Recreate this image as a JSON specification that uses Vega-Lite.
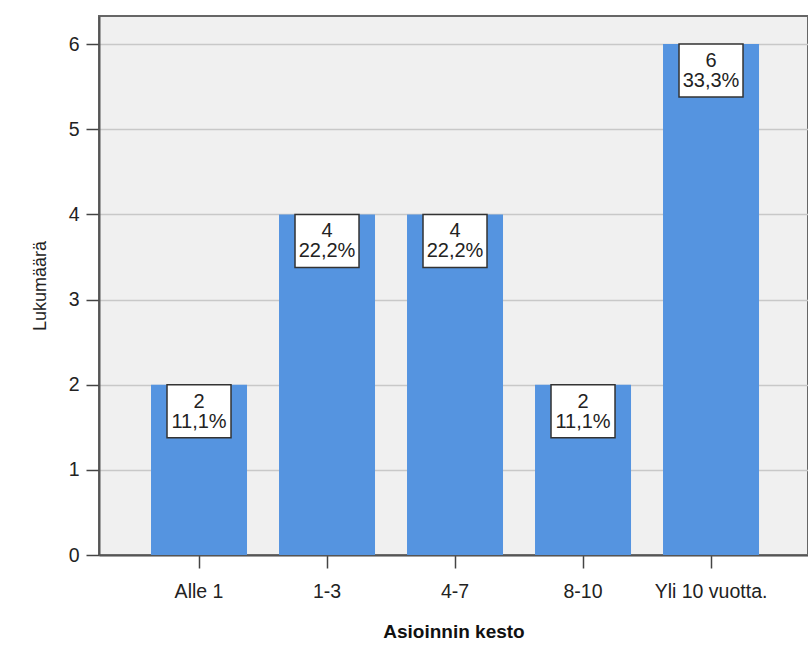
{
  "$schema": "https://vega.github.io/schema/vega-lite/v6.json",
  "width": 709,
  "height": 539,
  "autosize": "none",
  "padding": {"left": 99, "top": 16, "right": 0, "bottom": 95},
  "background": "white",
  "config": {
    "view": {"fill": "#f0f0f0", "stroke": "#666666", "strokeWidth": 2},
    "font": "Liberation Sans"
  },
  "data": {
    "values": [
      {"kesto": "Alle 1", "n": 2, "pct": "11,1%"},
      {"kesto": "1-3", "n": 4, "pct": "22,2%"},
      {"kesto": "4-7", "n": 4, "pct": "22,2%"},
      {"kesto": "8-10", "n": 2, "pct": "11,1%"},
      {"kesto": "Yli 10 vuotta.", "n": 6, "pct": "33,3%"}
    ]
  },
  "encoding": {
    "x": {
      "field": "kesto",
      "type": "nominal",
      "sort": null,
      "scale": {"paddingInner": 0.25, "paddingOuter": 0.3945, "align": 0.515},
      "axis": {
        "title": "Asioinnin kesto",
        "labelAngle": 0,
        "labelFont": "Liberation Sans",
        "labelFontSize": 19.5,
        "labelColor": "#222222",
        "labelBaseline": "alphabetic",
        "labelPadding": 29,
        "tickSize": 13,
        "tickColor": "#444444",
        "tickWidth": 1.5,
        "domainColor": "#555555",
        "domainWidth": 2,
        "grid": false,
        "titleFont": "Liberation Sans",
        "titleFontWeight": "bold",
        "titleFontSize": 19,
        "titleColor": "#111111",
        "titleBaseline": "alphabetic",
        "titleY": 82
      }
    },
    "y": {
      "field": "n",
      "type": "quantitative",
      "scale": {"domain": [0, 6.33], "nice": false},
      "axis": {
        "title": "Lukumäärä",
        "values": [0, 1, 2, 3, 4, 5, 6],
        "labelFont": "Liberation Sans",
        "labelFontSize": 19.5,
        "labelColor": "#222222",
        "labelPadding": 7,
        "tickSize": 13,
        "tickColor": "#444444",
        "tickWidth": 1.5,
        "domainColor": "#555555",
        "domainWidth": 2,
        "gridColor": "#c8c8c8",
        "gridWidth": 1.5,
        "titleFont": "Liberation Sans",
        "titleFontWeight": "normal",
        "titleFontSize": 18,
        "titleColor": "#222222",
        "titleAngle": -90,
        "titleBaseline": "alphabetic",
        "titleX": -54
      }
    }
  },
  "layer": [
    {"mark": {"type": "bar", "color": "#5594e0"}},
    {
      "mark": {
        "type": "point",
        "shape": "M-1,0H1V1.656H-1Z",
        "size": 4096,
        "filled": true,
        "fill": "white",
        "stroke": "#333333",
        "strokeWidth": 1.5,
        "opacity": 1
      }
    },
    {
      "mark": {"type": "text", "baseline": "alphabetic", "dy": 23, "fontSize": 20, "color": "#222222", "font": "Liberation Sans"},
      "encoding": {"text": {"field": "n", "type": "quantitative"}}
    },
    {
      "mark": {"type": "text", "baseline": "alphabetic", "dy": 43, "fontSize": 20, "color": "#222222", "font": "Liberation Sans"},
      "encoding": {"text": {"field": "pct", "type": "nominal"}}
    }
  ]
}
